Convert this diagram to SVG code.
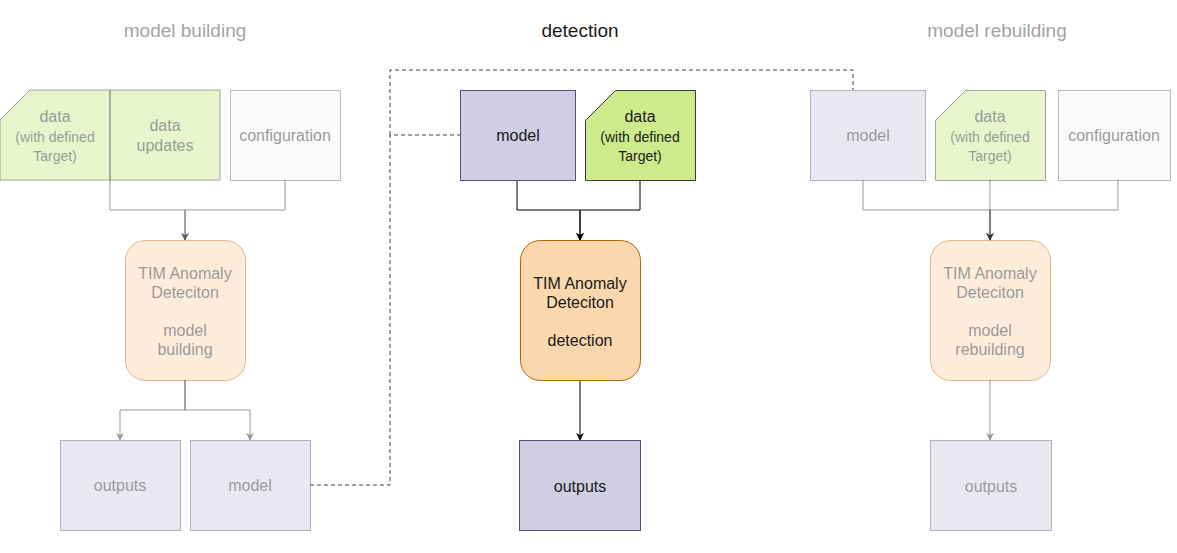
<svg xmlns="http://www.w3.org/2000/svg" width="1177" height="553" viewBox="0 0 1177 553">
<defs>
<marker id="arr" viewBox="0 0 10 10" refX="9" refY="5" markerWidth="8" markerHeight="8" markerUnits="userSpaceOnUse" orient="auto">
<path d="M0,0 L10,5 L0,10 L3,5 Z" fill="#000"/>
</marker>
<style>
text{font-family:"Liberation Sans",Arial,sans-serif;font-size:16px;fill:#1a1a1a;text-anchor:middle}
.sm{font-size:14px}
.title{font-size:19px}
.model{fill:#d0cee2;stroke:#56517e;stroke-width:1}
.data{fill:#cdeb8b;stroke:#36393d;stroke-width:1}
.conf{fill:#f5f5f5;stroke:#666;stroke-width:1}
.tim{fill:#fad7ac;stroke:#b46504;stroke-width:1}
.fade{opacity:0.45}
.edge{fill:none;stroke:#000;stroke-width:1}
.fedge{fill:none;stroke:#000;stroke-width:1;opacity:0.4}
.dash{fill:none;stroke:#444;stroke-width:1;stroke-dasharray:4 3}
</style>
</defs>
<rect width="1177" height="553" fill="#fff"/>

<g id="titles">
<text class="title" x="185" y="37" style="fill:#a3a3a3">model building</text>
<text class="title" x="580" y="37">detection</text>
<text class="title" x="997" y="37" style="fill:#a3a3a3">model rebuilding</text>
</g>

<g id="connectors">
<path class="fedge" d="M110,180 V210 H185 V240" marker-end="url(#arr)"/>
<path class="fedge" d="M285,180 V210 H185 V240" marker-end="url(#arr)"/>
<path class="fedge" d="M185,380 V410 H120 V440" marker-end="url(#arr)"/>
<path class="fedge" d="M185,380 V410 H250 V440" marker-end="url(#arr)"/>
<path class="edge" d="M517,180 V210 H580 V240" marker-end="url(#arr)"/>
<path class="edge" d="M640,180 V210 H580 V240" marker-end="url(#arr)"/>
<path class="edge" d="M580,380 V440" marker-end="url(#arr)"/>
<path class="fedge" d="M863,180 V210 H990 V240" marker-end="url(#arr)"/>
<path class="fedge" d="M990,180 V240" marker-end="url(#arr)"/>
<path class="fedge" d="M1118,180 V210 H990 V240" marker-end="url(#arr)"/>
<path class="fedge" d="M990,380 V440" marker-end="url(#arr)"/>
<path class="dash" d="M310,485 H390 V135 H460"/>
<path class="dash" d="M390,135 V70 H853 V90"/>
</g>

<g id="lb-data" class="fade">
<path class="data" d="M30,90 H110 V180 H0 V120 Z"/>
<text x="55" y="122">data</text>
<text class="sm" x="55" y="142">(with defined</text>
<text class="sm" x="55" y="161">Target)</text>
</g>
<g id="lb-updates" class="fade">
<rect class="data" x="110" y="90" width="110" height="90"/>
<text x="165" y="131">data</text>
<text x="165" y="151">updates</text>
</g>
<g id="lb-config" class="fade">
<rect class="conf" x="230.5" y="90.5" width="110" height="90"/>
<text x="285" y="141">configuration</text>
</g>
<g id="lb-tim" class="fade">
<rect class="tim" x="125.5" y="240.5" width="120" height="140" rx="20"/>
<text x="185" y="279">TIM Anomaly</text>
<text x="185" y="298">Deteciton</text>
<text x="185" y="336">model</text>
<text x="185" y="355">building</text>
</g>
<g id="lb-outputs" class="fade">
<rect class="model" x="60.5" y="440.5" width="120" height="90"/>
<text x="120" y="491">outputs</text>
</g>
<g id="lb-model" class="fade">
<rect class="model" x="190.5" y="440.5" width="120" height="90"/>
<text x="250" y="491">model</text>
</g>

<g id="d-model">
<rect class="model" x="460.5" y="90.5" width="115" height="90"/>
<text x="518" y="141">model</text>
</g>
<g id="d-data">
<path class="data" d="M615.5,90.5 H695.5 V180.5 H585.5 V120.5 Z"/>
<text x="640" y="122">data</text>
<text class="sm" x="640" y="142">(with defined</text>
<text class="sm" x="640" y="161">Target)</text>
</g>
<g id="d-tim">
<rect class="tim" x="520.5" y="240.5" width="120" height="140" rx="20"/>
<text x="580" y="289">TIM Anomaly</text>
<text x="580" y="308">Deteciton</text>
<text x="580" y="346">detection</text>
</g>
<g id="d-outputs">
<rect class="model" x="519.5" y="440.5" width="121" height="90"/>
<text x="580" y="492">outputs</text>
</g>

<g id="r-model" class="fade">
<rect class="model" x="810.5" y="90.5" width="115" height="90"/>
<text x="868" y="141">model</text>
</g>
<g id="r-data" class="fade">
<path class="data" d="M965.5,90.5 H1045.5 V180.5 H935.5 V120.5 Z"/>
<text x="990" y="122">data</text>
<text class="sm" x="990" y="142">(with defined</text>
<text class="sm" x="990" y="161">Target)</text>
</g>
<g id="r-config" class="fade">
<rect class="conf" x="1058.5" y="90.5" width="112" height="90"/>
<text x="1114" y="141">configuration</text>
</g>
<g id="r-tim" class="fade">
<rect class="tim" x="930.5" y="240.5" width="120" height="140" rx="20"/>
<text x="990" y="279">TIM Anomaly</text>
<text x="990" y="298">Deteciton</text>
<text x="990" y="336">model</text>
<text x="990" y="355">rebuilding</text>
</g>
<g id="r-outputs" class="fade">
<rect class="model" x="930.5" y="440.5" width="121" height="90"/>
<text x="991" y="492">outputs</text>
</g>
</svg>
